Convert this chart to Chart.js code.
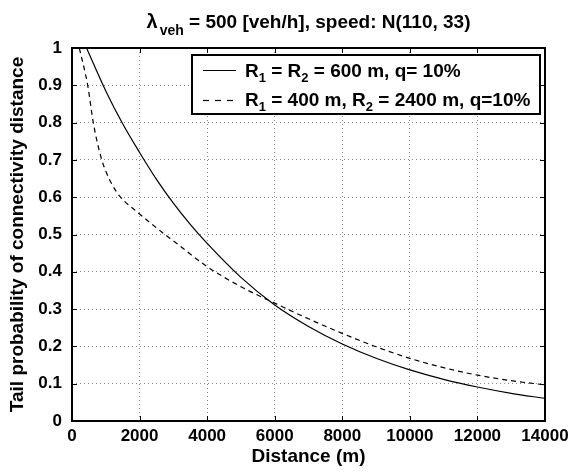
<!DOCTYPE html>
<html>
<head>
<meta charset="utf-8">
<script src="https://cdn.jsdelivr.net/npm/chart.js@4"></script>
<style>
  html, body { margin: 0; padding: 0; background: #fff; }
  #wrap { width: 568px; height: 474px; }
</style>
</head>
<body>
<div id="wrap"><canvas id="tailChart" width="568" height="474"></canvas></div>
<script>
// Distances (m) and tail probability
const distSolid = [430, 1000, 1500, 2000, 2500, 3000, 3500, 4000, 5000, 6000, 7000, 8000, 9000, 10000, 11000, 12000, 13000, 14000]
const probSolid = [1.0, 0.885, 0.797, 0.72, 0.648, 0.584, 0.527, 0.476, 0.385, 0.311, 0.2535, 0.2066, 0.1684, 0.1372, 0.1118, 0.0912, 0.0743, 0.0605]

const distDashed = [217, 465, 630, 880, 1000, 1100, 1200, 1300, 1400, 2000, 2750, 3000, 4000, 5000, 6000, 7000, 8000, 9000, 10000, 11000, 12000, 13000, 14000]
const probDashed = [1.0, 0.9, 0.8, 0.7, 0.67, 0.649, 0.632, 0.617, 0.604, 0.555, 0.5, 0.483, 0.414, 0.36, 0.316, 0.274, 0.235, 0.199, 0.168, 0.143, 0.123, 0.108, 0.097]

const xTicks = [0, 2000, 4000, 6000, 8000, 10000, 12000, 14000]
const yTicks = [0, 0.1, 0.2, 0.3, 0.4, 0.5, 0.6, 0.7, 0.8, 0.9, 1]

const FONT = "'Liberation Sans', Arial, Helvetica, sans-serif"

const toPoints = (xs, ys) => xs.map((x, i) => ({ x: x, y: ys[i] }))

// draws a line of text made of pieces, some of them subscripts
function drawRich(ctx, parts, x, y, size, subSize, subDrop, draw) {
    parts.forEach((p) => {
        const s = p.sub ? subSize : (p.size || size)
        ctx.font = "bold " + s + "px " + FONT
        if (draw) ctx.fillText(p.t, x, p.sub ? y + subDrop : y)
        x += ctx.measureText(p.t).width + (p.gap || 0)
    })
    return x
}

const decorations = {
    id: 'decorations',
    afterDraw(chart) {
        const ctx = chart.ctx
        const a = chart.chartArea
        const xs = chart.scales.x
        const ys = chart.scales.y
        ctx.save()
        ctx.fillStyle = '#000'
        ctx.strokeStyle = '#000'
        ctx.textBaseline = 'alphabetic'
        ctx.textAlign = 'left'

        // title
        const titleParts = [
            { t: 'λ', size: 20, gap: 2 },
            { t: 'veh', sub: true },
            { t: ' = 500 [veh/h], speed: N(110, 33)' }
        ]
        const w = drawRich(ctx, titleParts, 0, 0, 19, 14, 7, false)
        drawRich(ctx, titleParts, (a.left + a.right) / 2 - w / 2, 28, 19, 14, 7, true)

        // inward tick marks on all four sides
        ctx.lineWidth = 1
        ctx.beginPath()
        xTicks.forEach((v) => {
            const px = Math.round(xs.getPixelForValue(v)) + 0.5
            ctx.moveTo(px, a.bottom); ctx.lineTo(px, a.bottom - 5)
            ctx.moveTo(px, a.top); ctx.lineTo(px, a.top + 5)
        })
        yTicks.forEach((v) => {
            const py = Math.round(ys.getPixelForValue(v)) + 0.5
            ctx.moveTo(a.left, py); ctx.lineTo(a.left + 5, py)
            ctx.moveTo(a.right, py); ctx.lineTo(a.right - 5, py)
        })
        ctx.stroke()

        // frame
        ctx.lineWidth = 2
        ctx.strokeRect(a.left, a.top, a.right - a.left, a.bottom - a.top)

        // legend
        const lx = 192, ly = 55, lw = 348, lh = 59
        ctx.fillStyle = '#fff'
        ctx.fillRect(lx, ly, lw, lh)
        ctx.lineWidth = 2
        ctx.strokeRect(lx, ly, lw, lh)
        ctx.fillStyle = '#000'
        ctx.lineWidth = 1.2
        ctx.beginPath()
        ctx.moveTo(203, 70.5); ctx.lineTo(236, 70.5)
        ctx.stroke()
        ctx.setLineDash([6, 6])
        ctx.beginPath()
        ctx.moveTo(203, 100.5); ctx.lineTo(236, 100.5)
        ctx.stroke()
        ctx.setLineDash([])
        drawRich(ctx, [
            { t: 'R' }, { t: '1', sub: true }, { t: ' = R' }, { t: '2', sub: true }, { t: ' = 600 m, q= 10%' }
        ], 245, 77, 19, 13, 5, true)
        drawRich(ctx, [
            { t: 'R' }, { t: '1', sub: true }, { t: ' = 400 m, R' }, { t: '2', sub: true }, { t: ' = 2400 m, q=10%' }
        ], 245, 106, 19, 13, 5, true)
        ctx.restore()
    }
}

const chart = new Chart(document.getElementById('tailChart').getContext('2d'), {
    type: 'line',
    data: {
        datasets: [{
            label: 'R1 = R2 = 600 m, q= 10%',
            data: toPoints(distSolid, probSolid),
            borderColor: '#000',
            borderWidth: 1.2,
            pointRadius: 0,
            cubicInterpolationMode: 'monotone',
            fill: false
        }, {
            label: 'R1 = 400 m, R2 = 2400 m, q=10%',
            data: toPoints(distDashed, probDashed),
            borderColor: '#000',
            borderWidth: 1.2,
            borderDash: [5, 4],
            pointRadius: 0,
            cubicInterpolationMode: 'monotone',
            fill: false
        }]
    },
    options: {
        responsive: false,
        animation: false,
        layout: { padding: { left: 0, right: 23, top: 48, bottom: 0 } },
        plugins: {
            legend: { display: false },
            tooltip: { enabled: false }
        },
        scales: {
            x: {
                type: 'linear',
                min: 0,
                max: 14000,
                afterBuildTicks: (scale) => { scale.ticks = xTicks.map((v) => ({ value: v })) },
                afterFit: (scale) => {
                    scale.height = 53
                    scale.paddingLeft = 0
                    scale.paddingRight = 0
                },
                border: { display: false, dash: [1, 3] },
                grid: { color: '#888', lineWidth: 1, drawTicks: false },
                ticks: {
                    color: '#000',
                    padding: 5,
                    maxRotation: 0,
                    font: { family: FONT, size: 17, weight: 'bold' },
                    callback: (v) => String(v)
                },
                title: {
                    display: true,
                    text: 'Distance (m)',
                    color: '#000',
                    padding: { top: 4, bottom: 6 },
                    font: { family: FONT, size: 19, weight: 'bold' }
                }
            },
            y: {
                min: 0,
                max: 1,
                afterBuildTicks: (scale) => { scale.ticks = yTicks.map((v) => ({ value: v })) },
                afterFit: (scale) => { scale.width = 72 },
                border: { display: false, dash: [1, 3] },
                grid: { color: '#888', lineWidth: 1, drawTicks: false },
                ticks: {
                    color: '#000',
                    padding: 10,
                    font: { family: FONT, size: 17, weight: 'bold' },
                    callback: (v) => String(Math.round(v * 10) / 10)
                },
                title: {
                    display: true,
                    text: 'Tail probability of connectivity distance',
                    color: '#000',
                    padding: { top: 6, bottom: 2 },
                    font: { family: FONT, size: 19, weight: 'bold' }
                }
            }
        }
    },
    plugins: [decorations]
})
</script>
</body>
</html>
